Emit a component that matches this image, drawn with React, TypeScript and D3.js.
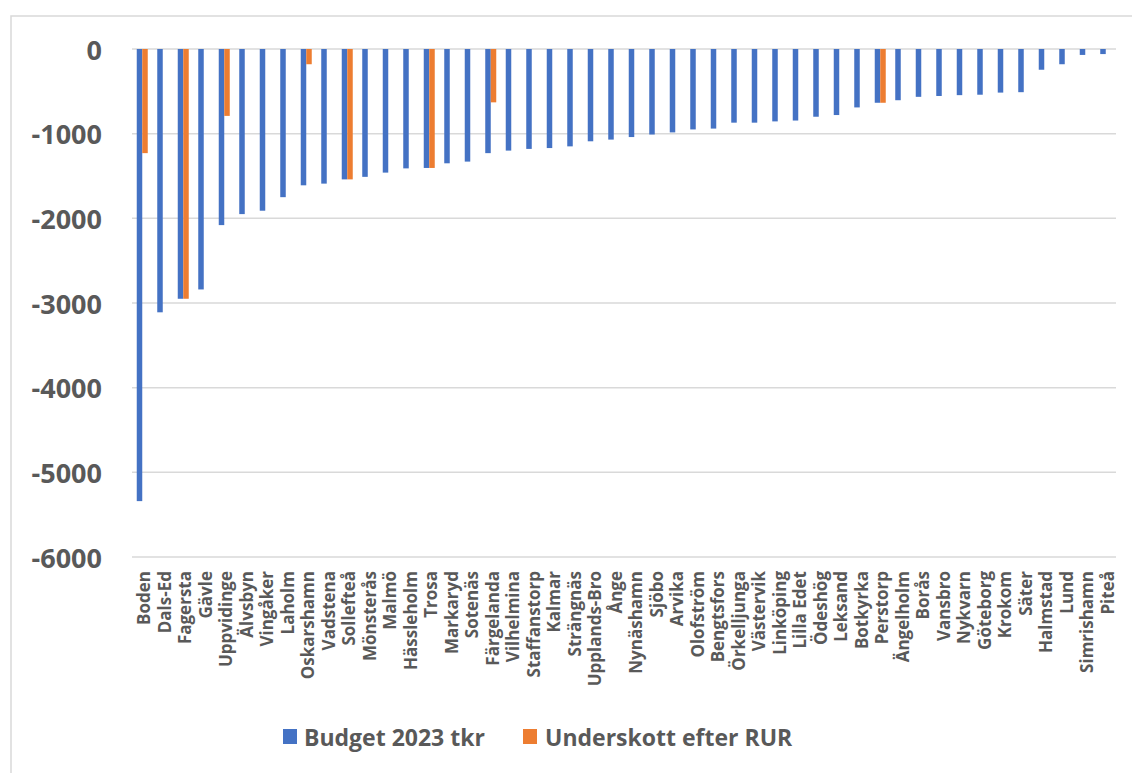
import React from "react";
import * as d3 from "d3";

const categories = [
  "Boden", "Dals-Ed", "Fagersta", "Gävle", "Uppvidinge", "Älvsbyn", "Vingåker", "Laholm",
  "Oskarshamn", "Vadstena", "Sollefteå", "Mönsterås", "Malmö", "Hässleholm", "Trosa", "Markaryd",
  "Sotenäs", "Färgelanda", "Vilhelmina", "Staffanstorp", "Kalmar", "Strängnäs", "Upplands-Bro", "Ånge",
  "Nynäshamn", "Sjöbo", "Arvika", "Olofström", "Bengtsfors", "Örkelljunga", "Västervik", "Linköping",
  "Lilla Edet", "Ödeshög", "Leksand", "Botkyrka", "Perstorp", "Ängelholm", "Borås", "Vansbro",
  "Nykvarn", "Göteborg", "Krokom", "Säter", "Halmstad", "Lund", "Simrishamn", "Piteå",
];

const budget = [
  -5340, -3110, -2950, -2840, -2080, -1950, -1910, -1750,
  -1610, -1590, -1540, -1510, -1460, -1410, -1405, -1350,
  -1330, -1230, -1200, -1180, -1170, -1150, -1090, -1070,
  -1040, -1010, -985, -950, -940, -870, -870, -855,
  -845, -800, -780, -690, -635, -605, -565, -555,
  -545, -540, -515, -510, -245, -180, -70, -60,
];

const underskott: (number | null)[] = [
  -1230, null, -2950, null, -790, null, null, null,
  -180, null, -1540, null, null, null, -1405, null,
  null, -630, null, null, null, null, null, null,
  null, null, null, null, null, null, null, null,
  null, null, null, null, -635, null, null, null,
  null, null, null, null, null, null, null, null,
];

const yTicks = [0, -1000, -2000, -3000, -4000, -5000, -6000];
const seriesNames = ["Budget 2023 tkr", "Underskott efter RUR"];
const colors = ["#4472C4", "#ED7D31"];

export default function App() {
  const W = 1132, H = 773;
  const left = 132, right = 1116, top = 49, bottom = 557;
  const x = d3.scaleBand<string>().domain(categories).range([left, right]);
  const y = d3.scaleLinear().domain([0, -6000]).range([top, bottom]);
  const barW = 5.5;
  const sub = d3.scaleBand<string>().domain(["b", "u"]).range([x.bandwidth() / 2 - barW, x.bandwidth() / 2 + barW]);
  const font = "'Open Sans', 'DejaVu Sans', sans-serif";
  const textColor = "#595959";

  return (
    <svg width={W} height={H} style={{ position: "absolute", left: 0, top: 0, background: "#fff" }}>
      <rect x={11} y={16} width={1140} height={780} fill="#fff" stroke="#d9d9d9" strokeWidth={1.5} />
      {yTicks.map((t) => (
        <g key={t}>
          <line x1={left} x2={right} y1={y(t)} y2={y(t)} stroke="#d9d9d9" strokeWidth={1.5} />
          <text x={102} y={y(t)} textAnchor="end" dominantBaseline="central" fontFamily={font}
            fontWeight={700} fontSize={27} fill={textColor}>{t}</text>
        </g>
      ))}
      {categories.map((c, i) => (
        <g key={c}>
          <rect x={(x(c) ?? 0) + (sub("b") ?? 0)} y={y(0)} width={sub.bandwidth()}
            height={y(budget[i]) - y(0)} fill={colors[0]} />
          {underskott[i] !== null && (
            <rect x={(x(c) ?? 0) + (sub("u") ?? 0)} y={y(0)} width={sub.bandwidth()}
              height={y(underskott[i] as number) - y(0)} fill={colors[1]} />
          )}
          <text transform={`translate(${(x(c) ?? 0) + x.bandwidth() / 2 + 1.5},${571}) rotate(-90)`}
            textAnchor="end" dominantBaseline="central" fontFamily={font} fontWeight={700}
            fontSize={17} fill={textColor}>{c}</text>
        </g>
      ))}
      <g>
        <rect x={283} y={729} width={14} height={15} fill={colors[0]} />
        <text x={304} y={737} dominantBaseline="central" fontFamily={font} fontWeight={700}
          fontSize={23} fill={textColor}>{seriesNames[0]}</text>
        <rect x={523} y={729} width={14} height={15} fill={colors[1]} />
        <text x={545} y={737} dominantBaseline="central" fontFamily={font} fontWeight={700}
          fontSize={23} fill={textColor}>{seriesNames[1]}</text>
      </g>
    </svg>
  );
}
